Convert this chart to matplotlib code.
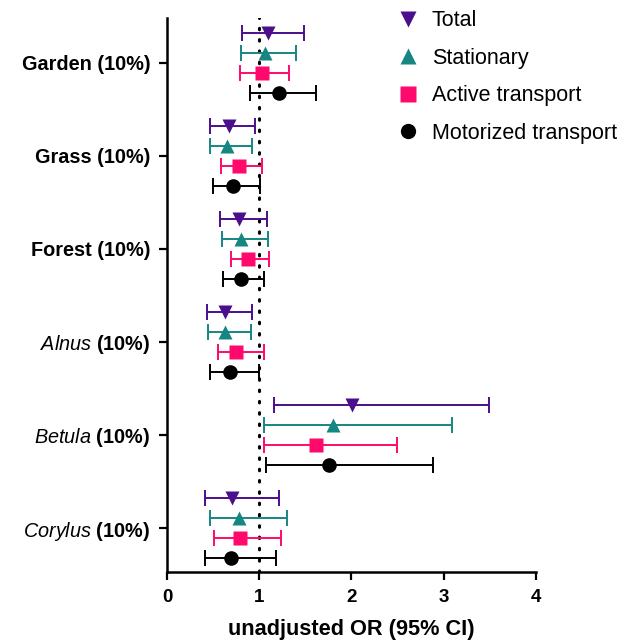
import matplotlib
matplotlib.use("Agg")
import matplotlib.pyplot as plt
from matplotlib.lines import Line2D

plt.rcParams["font.family"] = ["Liberation Sans", "DejaVu Sans"]
plt.rcParams["mathtext.fontset"] = "custom"
plt.rcParams["mathtext.it"] = "Liberation Sans:italic"
plt.rcParams["mathtext.rm"] = "Liberation Sans"
plt.rcParams["mathtext.bf"] = "Liberation Sans:bold"

groups = ["Garden (10%)", "Grass (10%)", "Forest (10%)",
          r"$\mathit{Alnus}$ (10%)", r"$\mathit{Betula}$ (10%)", r"$\mathit{Corylus}$ (10%)"]

series = ["Total", "Stationary", "Active transport", "Motorized transport"]

# odds ratio, lower CI, upper CI per group
total_or = [1.09, 0.67, 0.78, 0.63, 2.01, 0.71]
total_lo = [0.81, 0.47, 0.575, 0.43, 1.16, 0.415]
total_hi = [1.49, 0.955, 1.08, 0.92, 3.49, 1.21]

stat_or = [1.06, 0.65, 0.80, 0.63, 1.80, 0.78]
stat_lo = [0.80, 0.47, 0.60, 0.44, 1.05, 0.47]
stat_hi = [1.40, 0.925, 1.09, 0.91, 3.09, 1.30]

active_or = [1.03, 0.78, 0.88, 0.75, 1.62, 0.79]
active_lo = [0.795, 0.58, 0.69, 0.55, 1.05, 0.51]
active_hi = [1.32, 1.03, 1.11, 1.05, 2.49, 1.24]

motor_or = [1.21, 0.72, 0.80, 0.68, 1.76, 0.69]
motor_lo = [0.90, 0.50, 0.61, 0.47, 1.07, 0.415]
motor_hi = [1.62, 1.01, 1.05, 1.00, 2.88, 1.18]

colors = ["#4B0F8C", "#168683", "#FF0A6C", "#000000"]
markers = ["v", "^", "s", "o"]
offsets = [-0.3225, -0.1075, 0.1075, 0.3225]

data = [(total_or, total_lo, total_hi), (stat_or, stat_lo, stat_hi),
        (active_or, active_lo, active_hi), (motor_or, motor_lo, motor_hi)]

fig = plt.figure(figsize=(6.35, 6.43), dpi=100)
ax = fig.add_axes([0.263, 0.1104, 0.581, 0.862])

ax.axvline(1, color="black", lw=2.2, linestyle=(0, (0.5, 3.2)),
           dash_capstyle="round", zorder=1)

for k, (vals, lo, hi) in enumerate(data):
    ys = [i + offsets[k] for i in range(len(groups))]
    err = [[v - l for v, l in zip(vals, lo)], [h - v for v, h in zip(vals, hi)]]
    ax.errorbar(vals, ys, xerr=err, fmt=markers[k], color=colors[k],
                ms=10.5, mec="none", elinewidth=1.4, capsize=5.5,
                capthick=1.4, zorder=3)

ax.set_xlim(0, 4)
ax.set_ylim(5.473, -0.484)
ax.set_xticks([0, 1, 2, 3, 4])
ax.set_yticks(range(len(groups)), groups)

for lab in ax.get_xticklabels():
    lab.set_fontweight("bold")
    lab.set_fontsize(13.5)
for lab in ax.get_yticklabels():
    lab.set_fontweight("bold")
    lab.set_fontsize(14.3)

ax.set_xlabel("unadjusted OR (95% CI)", fontsize=15.7, fontweight="bold", labelpad=9)

ax.spines["top"].set_visible(False)
ax.spines["right"].set_visible(False)
ax.spines["left"].set_linewidth(1.8)
ax.spines["bottom"].set_linewidth(1.8)
ax.tick_params(axis="x", length=6, width=1.6, pad=6.5)
ax.tick_params(axis="y", length=6, width=1.6, pad=6)

handles = [Line2D([], [], marker=markers[k], color=colors[k], ls="none",
                  ms=11, mec="none") for k in range(4)]
fig.legend(handles, series, loc="upper left", bbox_to_anchor=(0.6255, 0.9837),
           frameon=False, fontsize=15.5, handlelength=1.0, handletextpad=0.6,
           labelspacing=0.76, borderpad=0, borderaxespad=0)

fig.savefig("out.png", dpi=100)
